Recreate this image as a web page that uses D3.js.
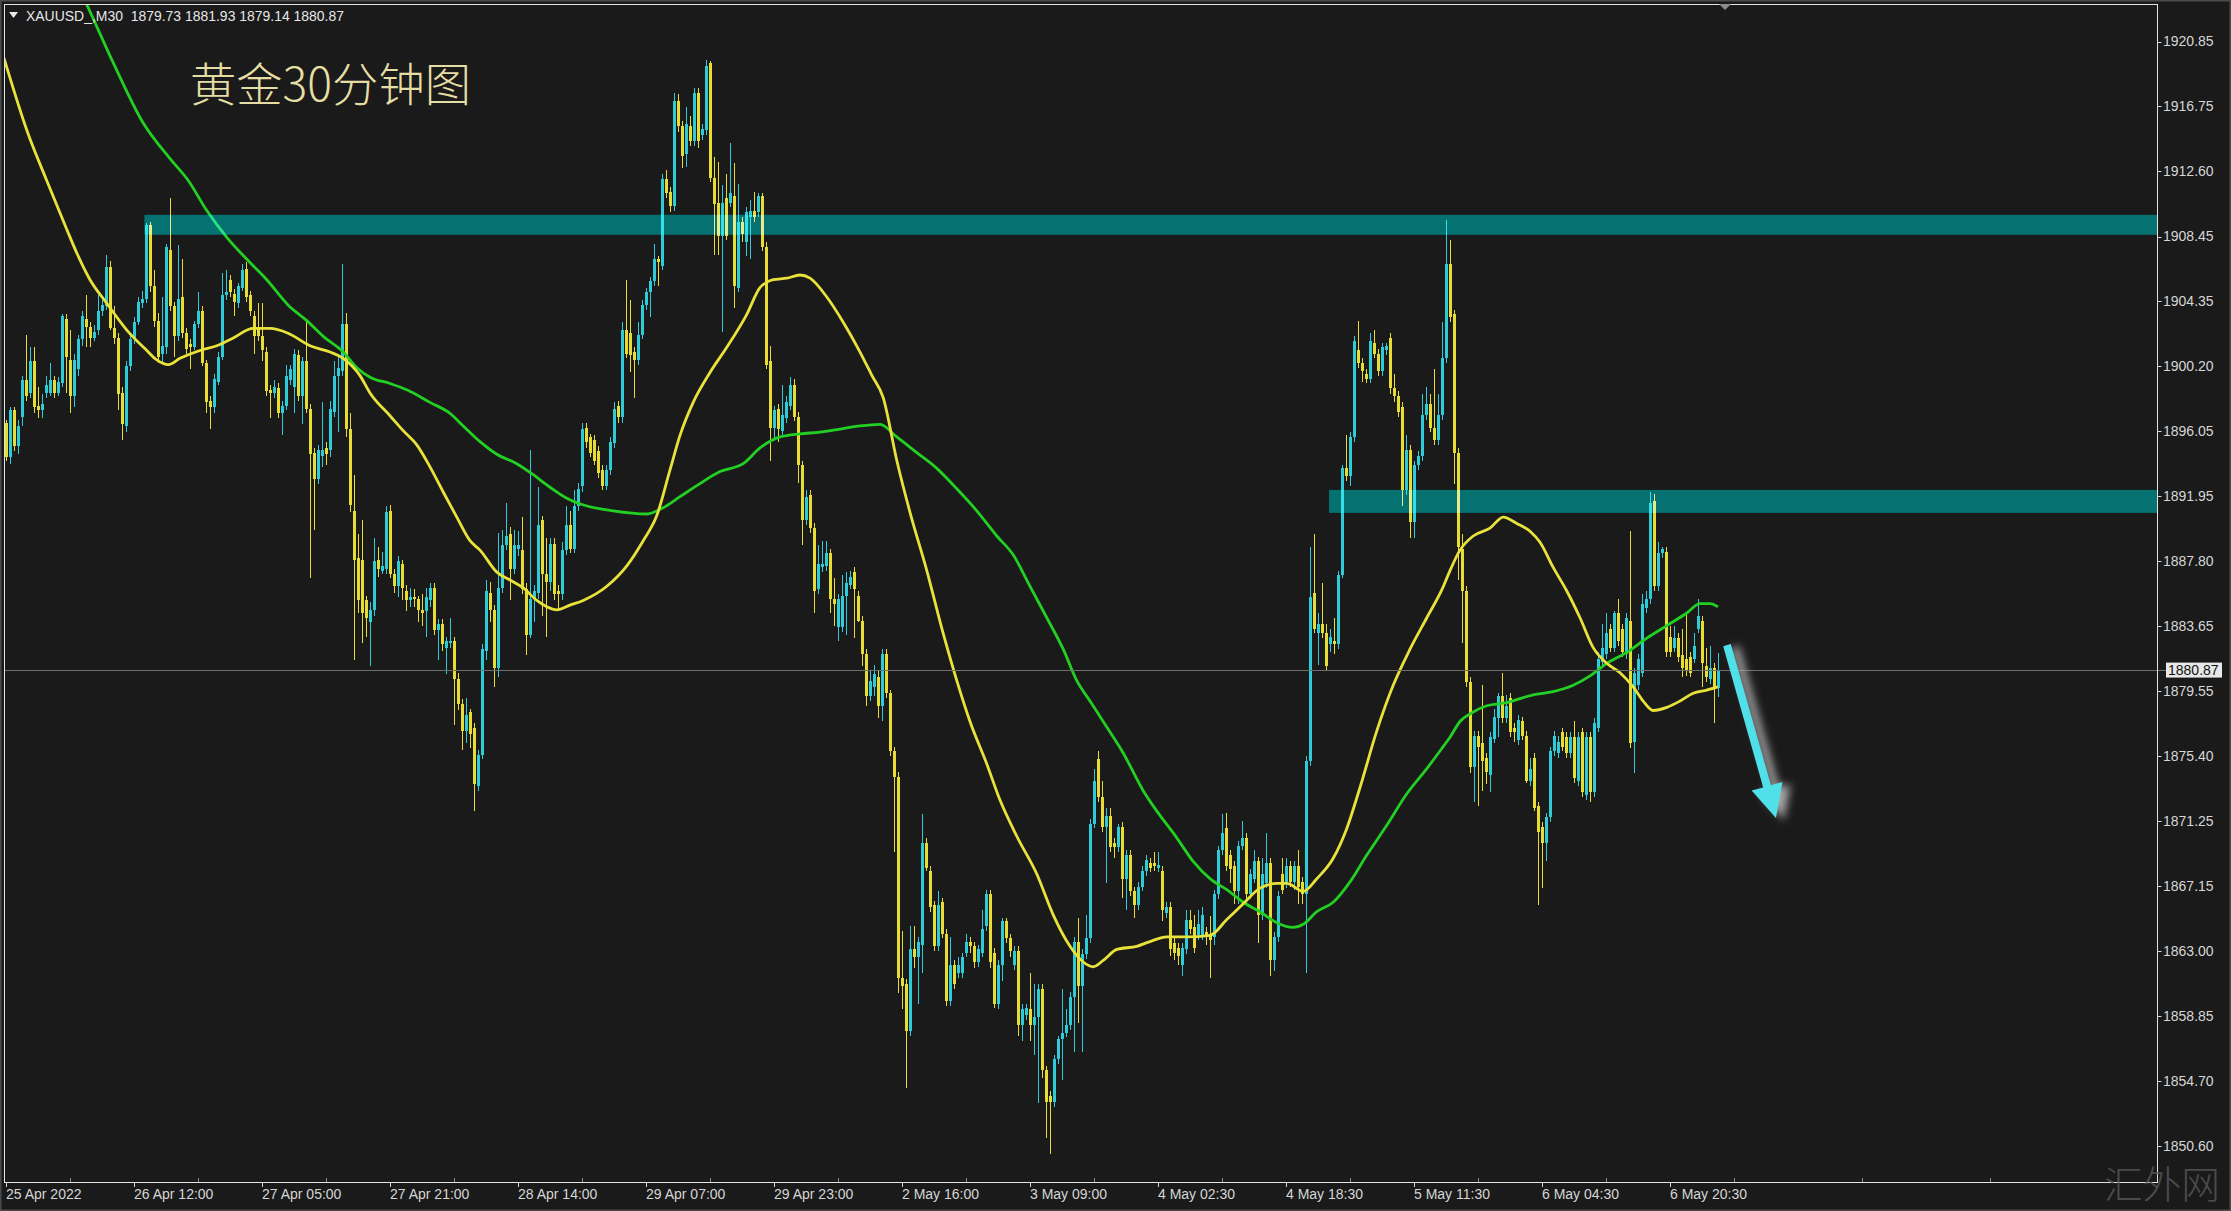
<!DOCTYPE html>
<html><head><meta charset="utf-8">
<script src="https://cdn.jsdelivr.net/npm/d3@7"></script>
<style>
html,body{margin:0;padding:0;background:#1a1a1a;overflow:hidden}
svg{display:block}
</style></head><body>
<svg id="chart" width="2231" height="1211"></svg>
<script>
// ---------------- DATA ----------------
const symbolHeader = "XAUUSD_,M30  1879.73 1881.93 1879.14 1880.87";
const chartTitle = "黄金30分钟图";
const watermark = "汇外网";
const lastPrice = 1880.87;

const opens = [
1896.6,1894.4,1897.4,1895.1,1897.0,1899.3,1898.5,1900.5,1897.7,1897.4,
1898.5,1898.5,1899.3,1898.5,1899.1,1903.2,1900.6,1898.3,1900.0,1901.9,
1903.2,1902.7,1902.0,1902.5,1903.7,1904.0,1906.5,1902.6,1902.0,1898.5,
1896.4,1900.2,1901.9,1903.0,1904.2,1904.5,1909.2,1905.3,1903.1,1901.0,
1901.4,1907.6,1904.0,1902.1,1904.6,1902.3,1901.6,1901.4,1902.9,1903.7,
1900.4,1898.0,1897.6,1899.2,1900.8,1904.7,1905.7,1904.8,1904.2,1905.2,
1906.4,1904.7,1903.4,1902.7,1902.1,1901.1,1898.7,1898.5,1898.8,1897.2,
1897.7,1899.3,1898.9,1900.9,1898.3,1900.5,1897.5,1894.7,1893.0,1894.5,
1895.0,1894.9,1897.3,1899.6,1899.9,1902.9,1896.2,1891.0,1888.0,1887.9,
1885.3,1883.9,1884.7,1887.9,1887.2,1887.3,1891.0,1887.0,1886.2,1887.6,
1885.9,1885.3,1885.5,1885.4,1884.7,1884.6,1885.3,1886.1,1883.4,1883.8,
1882.3,1882.6,1882.7,1880.3,1878.7,1877.0,1878.2,1877.2,1873.5,1875.5,
1882.1,1885.8,1884.7,1881.0,1886.1,1888.8,1889.5,1887.3,1888.6,1888.5,
1886.0,1883.1,1885.4,1885.8,1890.4,1887.0,1886.5,1888.9,1885.9,1885.7,
1888.5,1890.1,1888.6,1891.3,1892.6,1896.3,1895.7,1895.5,1894.8,1893.6,
1892.6,1893.6,1895.3,1897.7,1897.0,1902.5,1902.3,1901.1,1900.6,1902.2,
1904.1,1904.9,1905.6,1907.0,1906.6,1912.1,1911.3,1910.4,1917.1,1915.5,
1913.7,1915.5,1914.5,1917.6,1914.9,1915.2,1919.5,1912.2,1910.6,1908.5,
1910.9,1910.6,1911.0,1905.2,1909.4,1908.1,1909.7,1910.1,1910.0,1911.0,
1907.8,1900.5,1896.3,1897.5,1896.1,1896.9,1897.7,1899.0,1897.0,1893.9,
1890.4,1892.0,1889.9,1886.0,1887.4,1887.5,1888.3,1885.4,1883.6,1883.6,
1885.6,1886.3,1887.1,1885.6,1884.0,1881.9,1879.2,1879.8,1880.4,1878.6,
1881.9,1879.4,1875.7,1874.1,1861.3,1860.9,1857.9,1863.1,1862.6,1863.4,
1869.9,1868.1,1865.9,1863.3,1866.1,1864.1,1859.8,1862.1,1861.6,1861.6,
1862.9,1863.6,1863.3,1862.3,1862.9,1864.6,1866.6,1862.9,1859.6,1862.1,
1864.9,1863.8,1862.1,1863.0,1858.3,1858.9,1859.3,1858.3,1858.8,1860.6,
1855.4,1853.8,1853.4,1856.1,1857.4,1857.8,1858.3,1860.1,1863.6,1860.8,
1862.8,1863.8,1871.1,1875.2,1872.8,1870.9,1871.6,1869.9,1869.6,1870.9,
1867.6,1869.1,1866.8,1865.9,1867.1,1868.1,1868.6,1868.6,1868.3,1868.1,
1865.4,1865.8,1863.5,1863.2,1862.1,1863.1,1865.0,1864.5,1864.0,1864.0,
1864.2,1864.0,1863.9,1866.6,1869.4,1870.8,1869.1,1868.4,1866.8,1869.7,
1870.2,1866.6,1867.6,1868.7,1865.3,1867.3,1868.6,1862.4,1863.9,1867.9,
1867.3,1868.4,1867.4,1868.4,1867.4,1866.6,1875.1,1885.8,1883.2,1883.8,
1883.2,1882.5,1882.7,1882.5,1886.9,1893.7,1893.2,1895.7,1901.2,1900.4,
1899.7,1899.4,1901.7,1901.0,1899.9,1901.2,1902.0,1898.8,1898.3,1897.6,
1892.3,1894.9,1890.3,1893.9,1894.5,1897.1,1897.8,1896.3,1895.5,1897.1,
1900.7,1906.7,1903.5,1894.7,1888.6,1885.9,1880.1,1874.7,1876.7,1876.2,
1875.3,1874.2,1876.5,1877.8,1879.2,1877.8,1879.1,1877.2,1876.4,1877.6,
1876.7,1873.8,1875.3,1872.2,1870.9,1869.9,1871.5,1875.7,1875.6,1876.9,
1876.6,1875.6,1876.6,1873.8,1876.9,1872.9,1876.6,1873.1,1877.2,1881.4,
1881.9,1883.5,1882.3,1884.5,1883.5,1881.9,1884.0,1876.3,1879.9,1880.7,
1884.8,1885.4,1891.6,1886.2,1888.3,1888.4,1883.0,1882.3,1882.9,1881.8,
1881.6,1881.7,1881.6,1883.5,1884.0,1881.1,1880.3,1881.0,1879.73];

const highs = [
1896.8,1897.6,1897.6,1896.8,1899.6,1902.2,1901.4,1901.4,1898.9,1898.4,
1899.6,1900.4,1899.6,1899.5,1903.5,1903.5,1902.5,1901.0,1902.2,1903.7,
1904.7,1903.0,1902.8,1904.7,1904.4,1907.3,1906.9,1904.0,1902.3,1898.9,
1900.5,1902.1,1903.3,1904.6,1905.0,1909.3,1909.4,1906.3,1903.6,1904.6,
1908.0,1910.9,1904.3,1907.9,1907.0,1902.6,1901.9,1903.1,1904.9,1904.0,
1900.6,1898.3,1899.7,1901.1,1906.1,1906.3,1906.0,1905.1,1905.5,1906.7,
1906.8,1905.0,1903.7,1904.2,1904.2,1901.4,1899.0,1899.3,1899.1,1898.0,
1900.3,1900.3,1901.3,1901.2,1900.8,1903.2,1897.8,1895.0,1895.2,1897.9,
1895.4,1898.0,1900.5,1900.9,1906.7,1903.6,1897.2,1893.3,1889.5,1890.4,
1885.6,1885.2,1889.3,1888.7,1888.4,1891.3,1891.4,1887.3,1888.1,1887.9,
1886.3,1886.1,1886.0,1885.6,1885.7,1886.1,1886.4,1886.4,1884.1,1884.1,
1883.0,1884.2,1883.0,1880.7,1879.0,1879.1,1878.4,1877.5,1875.8,1882.5,
1886.6,1886.5,1885.0,1889.6,1889.8,1891.5,1890.0,1889.8,1889.7,1890.6,
1886.4,1894.9,1886.3,1892.5,1890.7,1889.3,1889.3,1889.3,1886.3,1889.0,
1891.3,1891.0,1892.3,1892.8,1896.6,1896.6,1895.9,1895.8,1895.1,1893.9,
1893.9,1895.7,1897.9,1898.0,1903.0,1905.7,1904.4,1901.4,1903.0,1904.4,
1905.2,1905.9,1908.0,1907.2,1912.4,1912.7,1911.6,1917.6,1917.5,1915.8,
1916.7,1916.1,1917.9,1917.9,1915.6,1919.7,1919.6,1913.5,1913.2,1911.7,
1912.4,1914.4,1913.1,1911.8,1909.7,1910.3,1910.8,1911.3,1911.2,1911.2,
1908.1,1901.5,1897.7,1897.8,1899.0,1898.3,1899.5,1899.4,1897.3,1894.2,
1892.3,1892.3,1890.2,1888.8,1889.1,1889.1,1888.6,1886.7,1885.7,1886.9,
1887.1,1887.2,1887.4,1885.9,1884.3,1882.2,1880.8,1881.2,1880.9,1882.2,
1882.2,1879.6,1876.0,1874.4,1864.3,1861.2,1864.6,1864.6,1863.9,1871.7,
1870.2,1868.4,1866.2,1866.8,1866.4,1864.4,1863.9,1862.4,1862.6,1862.9,
1864.1,1863.9,1863.6,1863.4,1865.6,1866.9,1866.9,1863.2,1862.4,1865.1,
1865.1,1864.1,1863.3,1863.3,1859.6,1859.6,1861.6,1860.9,1860.9,1860.9,
1855.7,1854.1,1856.4,1857.6,1860.6,1859.3,1860.4,1863.9,1865.1,1863.1,
1865.3,1871.4,1874.6,1875.7,1873.8,1872.1,1872.1,1870.2,1871.1,1871.2,
1869.4,1869.4,1867.1,1867.4,1868.4,1869.1,1868.9,1869.3,1869.3,1868.4,
1866.1,1866.1,1863.8,1863.5,1863.5,1865.6,1865.6,1865.3,1865.6,1865.8,
1864.5,1865.2,1866.9,1869.7,1871.7,1871.8,1869.4,1868.7,1870.0,1871.3,
1870.5,1868.2,1869.4,1869.0,1868.9,1870.5,1868.9,1864.2,1866.8,1868.9,
1868.9,1868.7,1868.7,1869.4,1867.7,1875.4,1888.7,1889.5,1884.5,1886.4,
1883.8,1883.5,1884.2,1887.2,1893.9,1895.8,1896.0,1902.1,1903.1,1900.7,
1900.0,1902.3,1902.5,1901.3,1901.7,1901.7,1902.3,1899.7,1898.6,1897.9,
1895.8,1895.2,1894.2,1894.8,1898.4,1898.9,1898.4,1900.0,1898.4,1903.0,
1909.5,1908.2,1903.8,1895.0,1889.5,1886.2,1880.4,1877.0,1877.0,1879.9,
1875.6,1876.9,1878.4,1879.4,1880.7,1879.3,1879.4,1877.5,1878.0,1877.9,
1877.0,1875.3,1875.6,1872.5,1871.2,1871.8,1876.0,1877.0,1876.7,1877.2,
1876.9,1876.9,1877.6,1876.9,1877.2,1876.9,1876.9,1877.8,1882.0,1883.8,
1884.5,1883.8,1884.6,1885.4,1883.8,1884.5,1889.7,1881.0,1881.9,1885.7,
1885.9,1892.2,1892.1,1889.0,1888.7,1888.7,1883.7,1883.7,1883.2,1883.5,
1884.5,1882.0,1883.2,1885.4,1884.3,1882.3,1882.4,1881.3,1881.93];

const lows = [
1894.2,1894.0,1894.8,1894.6,1896.4,1898.0,1898.2,1897.2,1896.9,1896.9,
1898.2,1898.3,1898.2,1898.3,1898.9,1898.5,1897.2,1897.6,1899.6,1901.5,
1901.4,1901.4,1901.8,1902.2,1903.4,1903.8,1902.5,1901.6,1897.4,1895.5,
1896.0,1899.9,1901.6,1902.8,1903.9,1904.2,1904.9,1902.7,1900.4,1900.4,
1901.0,1903.7,1900.8,1901.8,1902.0,1901.0,1900.0,1901.2,1902.6,1900.2,
1897.2,1896.2,1897.2,1899.0,1900.6,1904.4,1904.6,1903.4,1903.9,1905.0,
1904.3,1903.4,1901.0,1901.8,1900.5,1898.3,1896.9,1898.2,1896.9,1895.8,
1897.4,1899.0,1897.2,1898.0,1896.5,1897.2,1886.7,1889.8,1892.7,1893.8,
1893.9,1894.4,1897.0,1896.0,1899.6,1895.7,1890.9,1881.5,1884.5,1882.6,
1883.0,1881.1,1884.3,1886.8,1887.0,1887.0,1886.7,1885.8,1885.5,1885.3,
1884.6,1884.9,1884.9,1883.9,1883.7,1883.0,1884.9,1883.1,1881.5,1882.1,
1880.6,1882.3,1877.4,1878.3,1875.8,1876.2,1875.9,1871.9,1873.2,1875.2,
1881.5,1883.9,1879.8,1880.4,1885.8,1888.5,1885.3,1887.0,1888.1,1885.7,
1881.8,1882.9,1883.9,1885.4,1884.3,1883.0,1885.9,1885.3,1884.7,1885.3,
1888.2,1888.3,1888.3,1891.0,1892.2,1895.0,1894.4,1893.9,1893.1,1892.3,
1892.3,1893.3,1895.0,1896.6,1896.6,1900.7,1899.8,1898.2,1900.3,1901.9,
1903.8,1903.3,1905.3,1905.3,1906.3,1910.9,1910.0,1910.1,1915.1,1912.8,
1912.9,1914.2,1914.2,1914.1,1914.6,1914.9,1911.9,1907.3,1907.3,1902.4,
1908.2,1910.3,1903.9,1904.9,1908.1,1907.2,1907.0,1909.4,1909.7,1907.5,
1900.0,1894.2,1895.5,1895.4,1895.8,1896.6,1897.4,1896.7,1892.8,1888.8,
1890.1,1889.6,1884.5,1885.7,1887.1,1887.2,1884.5,1883.7,1882.7,1883.3,
1883.1,1886.0,1882.9,1883.9,1881.1,1878.6,1878.9,1879.2,1877.8,1877.6,
1879.1,1875.4,1869.3,1860.3,1859.3,1854.3,1857.6,1861.9,1859.6,1861.6,
1868.1,1865.5,1863.0,1863.0,1863.8,1859.5,1859.5,1860.6,1861.3,1861.3,
1862.6,1862.9,1861.9,1862.0,1862.6,1864.3,1861.9,1859.4,1859.3,1861.1,
1863.5,1862.6,1861.8,1857.6,1857.3,1858.6,1857.3,1856.4,1853.3,1854.9,
1851.1,1850.1,1853.1,1855.8,1854.8,1857.5,1858.0,1856.6,1858.4,1856.6,
1862.5,1863.5,1870.8,1872.5,1870.6,1867.3,1869.3,1868.9,1869.3,1866.4,
1865.6,1866.5,1865.1,1865.6,1866.8,1867.8,1868.0,1868.1,1868.0,1864.9,
1865.1,1862.7,1862.4,1862.1,1861.4,1862.8,1864.1,1862.9,1863.7,1863.7,
1863.4,1861.3,1863.4,1866.3,1869.1,1868.1,1867.3,1866.0,1866.0,1869.4,
1866.3,1866.3,1867.3,1863.5,1865.0,1867.0,1861.4,1861.7,1863.6,1866.6,
1867.0,1867.1,1866.9,1866.0,1866.0,1861.6,1874.8,1883.2,1881.2,1882.9,
1880.8,1882.0,1881.9,1882.2,1886.7,1892.9,1892.6,1895.4,1900.1,1899.2,
1899.1,1899.1,1900.7,1899.6,1899.6,1900.9,1898.4,1897.9,1897.0,1891.3,
1892.0,1889.3,1889.3,1893.6,1894.2,1896.8,1896.0,1895.2,1895.2,1896.8,
1900.4,1903.0,1892.7,1886.6,1882.6,1879.8,1874.3,1872.5,1872.2,1873.2,
1873.6,1873.1,1876.2,1876.6,1877.5,1877.5,1876.6,1876.3,1876.1,1876.4,
1873.7,1873.5,1871.9,1865.9,1867.0,1868.7,1871.2,1875.4,1875.3,1875.7,
1875.3,1875.3,1873.7,1873.5,1872.8,1872.6,1872.5,1872.8,1876.9,1881.1,
1881.6,1882.0,1882.0,1882.4,1881.7,1881.6,1875.9,1874.3,1879.6,1880.4,
1884.5,1885.1,1885.9,1885.9,1888.0,1881.7,1881.7,1882.0,1881.4,1880.4,
1880.5,1880.4,1881.3,1883.2,1879.8,1880.1,1880.0,1877.5,1879.14];

const closes = [
1894.4,1897.4,1895.1,1896.4,1899.3,1898.3,1900.5,1897.6,1897.4,1897.8,
1899.0,1899.3,1898.5,1899.2,1903.4,1900.8,1898.3,1900.6,1901.9,1903.4,
1902.7,1902.0,1902.4,1903.7,1904.1,1906.5,1902.6,1902.0,1898.4,1896.5,
1900.2,1901.9,1903.0,1904.3,1904.5,1909.2,1905.3,1903.1,1900.8,1901.5,
1907.8,1904.0,1902.1,1904.5,1902.3,1901.3,1901.4,1902.9,1903.7,1900.4,
1897.9,1897.6,1899.4,1900.8,1904.7,1904.9,1904.9,1904.3,1905.3,1906.3,
1904.6,1903.7,1902.1,1902.1,1901.2,1898.6,1898.5,1898.9,1897.2,1897.7,
1899.6,1900.0,1901.0,1898.3,1900.5,1897.5,1894.6,1893.0,1894.9,1894.9,
1894.6,1897.5,1899.6,1900.1,1902.9,1896.2,1891.4,1887.9,1885.3,1884.5,
1884.2,1884.7,1887.8,1887.3,1887.5,1890.9,1887.0,1886.2,1887.8,1886.1,
1885.3,1885.5,1885.4,1884.7,1884.5,1885.5,1886.1,1883.4,1883.8,1882.5,
1882.7,1882.7,1880.3,1878.7,1877.0,1878.0,1876.8,1873.6,1875.5,1882.2,
1885.9,1884.7,1881.0,1886.1,1888.8,1889.4,1887.3,1888.8,1888.8,1886.0,
1883.1,1885.4,1885.9,1890.1,1887.0,1886.5,1888.9,1885.7,1885.7,1888.5,
1890.1,1888.6,1891.3,1892.4,1896.2,1895.4,1894.7,1894.2,1893.4,1892.6,
1893.6,1895.4,1897.5,1897.0,1902.5,1901.0,1900.9,1900.6,1902.2,1904.1,
1904.9,1905.6,1907.0,1906.8,1912.1,1911.2,1910.4,1917.1,1915.5,1913.6,
1915.6,1914.5,1917.6,1914.5,1915.3,1919.3,1912.2,1910.5,1908.5,1910.6,
1908.5,1911.2,1905.3,1909.4,1908.6,1910.0,1910.1,1909.7,1911.0,1907.8,
1900.3,1896.3,1897.4,1896.2,1897.1,1897.9,1899.0,1897.0,1893.9,1890.4,
1891.9,1889.9,1885.9,1887.6,1887.6,1888.3,1885.4,1885.1,1885.4,1885.6,
1886.4,1886.8,1886.0,1884.0,1881.9,1879.2,1880.2,1880.6,1878.6,1881.9,
1879.4,1875.7,1874.1,1861.3,1860.8,1857.9,1863.1,1862.6,1863.6,1869.9,
1868.3,1865.8,1863.3,1865.9,1864.1,1859.8,1862.1,1860.9,1862.1,1862.6,
1863.6,1863.3,1862.3,1863.1,1864.4,1866.6,1862.3,1859.6,1862.1,1864.9,
1863.8,1863.0,1863.0,1858.3,1859.3,1859.4,1858.3,1858.8,1860.6,1855.4,
1853.4,1853.4,1856.1,1857.4,1857.8,1858.3,1860.1,1863.6,1860.8,1862.8,
1863.8,1871.1,1873.8,1872.8,1870.9,1871.6,1869.6,1869.6,1870.9,1867.6,
1869.1,1866.8,1865.9,1867.1,1868.1,1868.8,1868.3,1868.4,1868.5,1865.6,
1865.8,1863.1,1862.9,1862.7,1863.2,1865.0,1864.4,1863.2,1864.7,1865.3,
1863.9,1863.7,1866.6,1869.4,1870.5,1868.4,1868.2,1866.8,1869.7,1870.2,
1866.6,1867.9,1868.7,1865.3,1867.9,1868.6,1862.4,1863.9,1866.5,1866.9,
1868.4,1867.4,1868.4,1867.1,1866.6,1875.1,1885.5,1883.5,1883.8,1883.2,
1881.1,1883.0,1882.5,1886.9,1893.7,1893.2,1895.7,1901.8,1900.4,1899.9,
1899.4,1901.8,1901.0,1899.9,1901.4,1901.5,1898.8,1898.3,1897.3,1892.3,
1894.9,1890.3,1893.9,1894.5,1897.1,1897.8,1896.3,1895.5,1897.1,1900.7,
1906.7,1903.3,1894.7,1888.7,1885.9,1880.1,1874.7,1876.7,1876.0,1875.1,
1874.4,1876.6,1877.9,1879.2,1877.8,1878.6,1876.9,1876.9,1877.7,1876.7,
1873.8,1874.6,1872.1,1870.6,1869.9,1871.5,1875.7,1876.7,1876.3,1876.0,
1875.6,1876.6,1874.0,1876.6,1873.1,1876.6,1873.1,1877.5,1881.6,1882.3,
1883.2,1882.3,1884.5,1882.7,1882.0,1884.2,1876.2,1880.7,1881.6,1885.1,
1885.4,1891.5,1886.2,1888.3,1888.6,1882.0,1882.0,1882.9,1881.7,1881.0,
1880.8,1880.7,1882.4,1884.3,1881.3,1880.4,1881.0,1879.8,1880.87];

// Fast moving average (yellow): bar position / value
const maFastBars = [-0.5,5.5,10.2,15.2,17.7,21,25.2,30.2,35.2,37.7,40.6,43.5,48.5,52.7,56.8,61.8,66,70.5,76,81,84.3,88.5,91,96,99.3,102.7,106,109.3,112.7,116,118.5,122.7,126,129.3,132.7,135.2,137.7,141,144.3,150.2,155.2,159.3,162.7,166,168.5,171.8,176,180.2,185.2,188.5,191.8,195.2,198.5,201,205.2,209.3,213.5,216.5,219.3,222.7,226,230.2,234.3,237.7,241,245.2,248.5,252.7,257.7,261.8,266,269.3,271.8,274.3,277.7,282.7,286,290.2,295.2,301,305.2,309.3,313.5,317.7,320.2,324.3,327.7,331.8,335.2,338.5,342.7,346.8,351,355.2,359,361,363.5,366.8,371,374.3,377.7,381,383.5,386.8,390.2,393.5,396.8,400.2,403.5,406.8,409.3,411.8,415.2,418.5,421.8,425.2,428];
const maFastVals = [1919.8,1915.0,1912.0,1908.9,1907.4,1905.7,1904.2,1902.5,1901.2,1900.6,1900.3,1900.7,1901.2,1901.5,1902.0,1902.6,1902.6,1902.3,1901.5,1901.1,1900.7,1899.6,1898.5,1897.05,1896.1,1895.2,1893.8,1892.2,1890.6,1889.1,1888.5,1887.1,1886.6,1886.1,1885.3,1884.9,1884.7,1885.0,1885.3,1886.2,1887.5,1889.1,1890.7,1893.6,1895.8,1897.9,1899.8,1901.4,1903.5,1905.2,1905.7,1905.8,1906.0,1905.8,1904.6,1903.0,1901.1,1899.6,1898.2,1894.2,1890.9,1887.2,1883.2,1880.2,1877.6,1874.9,1872.6,1870.3,1867.9,1865.3,1863.3,1862.3,1862.0,1862.4,1863.1,1863.3,1863.6,1863.9,1863.9,1864.0,1865.0,1866.0,1867.0,1867.3,1867.3,1866.8,1867.6,1868.9,1870.8,1873.4,1877.0,1879.9,1882.2,1884.2,1886.0,1887.2,1888.5,1889.4,1889.9,1890.6,1890.2,1889.7,1889.0,1887.4,1885.9,1884.2,1882.3,1881.3,1880.7,1879.8,1878.9,1878.3,1878.5,1878.9,1879.4,1879.6,1879.8];

// Slow moving average (green)
const maSlowBars = [14,20.2,27,34,41,45.6,50.2,55.2,60.2,65.2,70.5,75.2,79.3,84.3,87.7,91,96,100.2,106,111,114.3,118.5,122.7,127.7,131.8,136,140.2,144,151.8,160.2,164.3,168.5,172.7,178.5,184.3,188.5,193.5,198.5,203.5,208.5,213.5,218.5,222.7,227.7,232.7,237.7,242.7,247.7,251.8,256,260.2,264.3,267.7,271,274.3,279.3,284.3,288,292.7,296.8,301,305.2,309.3,313.5,317.7,321.8,324.3,327.7,331.8,336,340.2,345.2,350.2,355.2,359,361,363.5,366.8,370.2,375.2,381.8,386.8,391.8,396,400.2,405.2,410.2,415.2,420.2,423.5,426,428];
const maSlowVals = [1926.5,1923.2,1919.4,1915.8,1913.4,1912.0,1910.1,1908.4,1907.0,1905.7,1904.1,1903.1,1902.1,1901.1,1900.1,1899.5,1899.1,1898.7,1897.9,1897.2,1896.4,1895.4,1894.6,1894.0,1893.3,1892.5,1891.8,1891.4,1891.0,1890.8,1891.2,1891.9,1892.6,1893.5,1894.0,1895.0,1895.7,1895.9,1896.0,1896.2,1896.4,1896.5,1895.7,1894.7,1893.7,1892.4,1891.0,1889.4,1888.2,1886.2,1884.2,1882.2,1880.2,1878.9,1877.6,1875.6,1873.2,1871.8,1870.2,1868.7,1867.6,1866.9,1866.1,1865.5,1864.8,1864.5,1864.7,1865.5,1866.1,1867.4,1869.1,1871.0,1873.0,1874.6,1875.9,1876.6,1877.6,1878.2,1878.6,1878.8,1879.3,1879.5,1879.9,1880.5,1881.3,1882.0,1882.9,1883.7,1884.5,1885.1,1885.1,1884.9];

// Support / resistance zones (start bar, lower price, upper price)
const zoneStartBars = [34.6, 330.75];
const zoneLows = [1908.56, 1890.87];
const zoneHighs = [1909.83, 1892.33];

// Price axis labels
const priceTicks = [1920.85,1916.75,1912.60,1908.45,1904.35,1900.20,1896.05,1891.95,1887.80,1883.65,1879.55,1875.40,1871.25,1867.15,1863.00,1858.85,1854.70,1850.60];

// Time axis labels
const timeLabelBars = [0,32,64,96,128,160,192,224,256,288,320,352,384,416];
const timeLabels = ["25 Apr 2022","26 Apr 12:00","27 Apr 05:00","27 Apr 21:00","28 Apr 14:00","29 Apr 07:00","29 Apr 23:00","2 May 16:00","3 May 09:00","4 May 02:30","4 May 18:30","5 May 11:30","6 May 04:30","6 May 20:30"];
const minorTickBars = [16,48,80,112,144,176,208,240,272,304,336,368,400,432,464,496,528];

// Forecast arrow: start (bar, price) -> tip (bar, price)
const arrowFrom = [430.25, 1882.46];
const arrowTo = [442.5, 1871.46];

// ---------------- DRAWING ----------------
const W = 2231, H = 1211;
const P = {left: 4, top: 4, right: 2157, bottom: 1182};
const COL = {bg:"#1a1a1a", frame:"#e4e4e4", text:"#d6d6d6", up:"#2fcbd8", down:"#e6dc34",
             maFast:"#e8e23a", maSlow:"#22cf22", zone:"rgb(5,113,113)", bid:"#6e6e6e"};

const x = d3.scaleLinear().domain([0, 537.75]).range([6, 2157]);
const y = d3.scaleLinear().domain([1848.37, 1923.24]).range([1181, 4]);

const svg = d3.select("#chart");
const defs = svg.append("defs");
defs.append("clipPath").attr("id","plotClip").append("rect")
  .attr("x",P.left+1).attr("y",P.top+1).attr("width",P.right-P.left-1).attr("height",P.bottom-P.top-1);
const f = defs.append("filter").attr("id","arrowShadow").attr("x","-50%").attr("y","-50%").attr("width","200%").attr("height","200%");
f.append("feGaussianBlur").attr("in","SourceAlpha").attr("stdDeviation",4).attr("result","b");
f.append("feOffset").attr("in","b").attr("dx",8).attr("dy",2).attr("result","o");
f.append("feFlood").attr("flood-color","#a8a8a8").attr("flood-opacity",1).attr("result","c");
f.append("feComposite").attr("in","c").attr("in2","o").attr("operator","in").attr("result","s");
const fm = f.append("feMerge"); fm.append("feMergeNode").attr("in","s"); fm.append("feMergeNode").attr("in","SourceGraphic");

svg.append("rect").attr("width",W).attr("height",H).attr("fill",COL.bg);
svg.append("rect").attr("x",0.5).attr("y",0.5).attr("width",W-1).attr("height",H-1)
  .attr("fill","none").attr("stroke","#4a4a4a").attr("stroke-width",2);

const plot = svg.append("g").attr("clip-path","url(#plotClip)");

// bid line
svg.append("line").attr("x1",P.left).attr("x2",2166).attr("y1",Math.round(y(lastPrice))+0.5).attr("y2",Math.round(y(lastPrice))+0.5)
  .attr("stroke",COL.bid).attr("stroke-width",1);

// candles
const idx = d3.range(closes.length);
const cg = plot.append("g").attr("shape-rendering","crispEdges");
const cx = i => Math.round(x(i));
cg.selectAll("rect.wick").data(idx).join("rect").attr("class","wick")
  .attr("x", i => cx(i)).attr("width",1)
  .attr("y", i => y(Math.max(highs[i], opens[i], closes[i])))
  .attr("height", i => Math.max(1, y(Math.min(lows[i], opens[i], closes[i])) - y(Math.max(highs[i], opens[i], closes[i]))))
  .attr("fill", i => closes[i] >= opens[i] ? COL.up : COL.down);
cg.selectAll("rect.body").data(idx).join("rect").attr("class","body")
  .attr("x", i => cx(i) - 1).attr("width",3)
  .attr("y", i => y(Math.max(opens[i], closes[i])))
  .attr("height", i => Math.max(1, Math.abs(y(opens[i]) - y(closes[i]))))
  .attr("fill", i => closes[i] >= opens[i] ? COL.up : COL.down);

// moving averages
const line = d3.line().x(d => x(d[0])).y(d => y(d[1])).curve(d3.curveMonotoneX);
plot.append("path").datum(d3.zip(maSlowBars, maSlowVals)).attr("d", line)
  .attr("fill","none").attr("stroke",COL.maSlow).attr("stroke-width",2.8).attr("stroke-linejoin","round");
plot.append("path").datum(d3.zip(maFastBars, maFastVals)).attr("d", line)
  .attr("fill","none").attr("stroke",COL.maFast).attr("stroke-width",2.8).attr("stroke-linejoin","round");

// zones (blended over price)
plot.selectAll("rect.zone").data(d3.range(zoneStartBars.length)).join("rect").attr("class","zone")
  .attr("x", i => x(zoneStartBars[i])).attr("width", i => P.right + 2 - x(zoneStartBars[i]))
  .attr("y", i => y(zoneHighs[i])).attr("height", i => y(zoneLows[i]) - y(zoneHighs[i]))
  .attr("fill", COL.zone).style("mix-blend-mode","screen");

// frame
svg.append("rect").attr("x",P.left+0.5).attr("y",P.top+0.5).attr("width",P.right-P.left).attr("height",P.bottom-P.top)
  .attr("fill","none").attr("stroke",COL.frame).attr("stroke-width",1).attr("shape-rendering","crispEdges");

// price axis
const pa = svg.append("g").attr("font-family","'Liberation Sans', Arial, sans-serif").attr("font-size",14).attr("fill",COL.text);
pa.selectAll("line").data(priceTicks).join("line")
  .attr("x1",P.right+0.5).attr("x2",P.right+4.5).attr("y1",d=>Math.round(y(d))+0.5).attr("y2",d=>Math.round(y(d))+0.5)
  .attr("stroke",COL.text).attr("stroke-width",1);
pa.selectAll("text").data(priceTicks).join("text")
  .attr("x",P.right+6).attr("y",d=>y(d)).attr("dy","0.35em").text(d=>d.toFixed(2));

// last price label
const ly = y(lastPrice);
svg.append("rect").attr("x",2166).attr("y",ly-7.5).attr("width",56).attr("height",15).attr("fill","#e8e8e8");
svg.append("text").attr("x",2168).attr("y",ly).attr("dy","0.35em").attr("font-family","'Liberation Sans', Arial, sans-serif")
  .attr("font-size",14).attr("fill","#111").text(lastPrice.toFixed(2));

// time axis
const ta = svg.append("g").attr("font-family","'Liberation Sans', Arial, sans-serif").attr("font-size",14).attr("fill",COL.text);
ta.selectAll("line.major").data(timeLabelBars).join("line").attr("class","major")
  .attr("x1",d=>cx(d)+0.5).attr("x2",d=>cx(d)+0.5).attr("y1",P.bottom).attr("y2",P.bottom+5)
  .attr("stroke",COL.text).attr("stroke-width",1);
ta.selectAll("line.minor").data(minorTickBars).join("line").attr("class","minor")
  .attr("x1",d=>cx(d)+0.5).attr("x2",d=>cx(d)+0.5).attr("y1",P.bottom-4).attr("y2",P.bottom)
  .attr("stroke","#8a8a8a").attr("stroke-width",1);
ta.selectAll("text").data(timeLabels).join("text")
  .attr("x",(d,i)=>cx(timeLabelBars[i])).attr("y",1199).text(d=>d);

// header
svg.append("path").attr("d","M9,12 L18,12 L13.5,18 Z").attr("fill","#e8e8e8");
svg.append("text").attr("x",26).attr("y",21).attr("font-family","'Liberation Sans', Arial, sans-serif").attr("font-size",14)
  .attr("fill","#e6e6e6").style("white-space","pre").attr("textLength",318).attr("lengthAdjust","spacingAndGlyphs").text(symbolHeader);
// shift marker
svg.append("path").attr("d","M1719,4 L1731,4 L1725,10 Z").attr("fill","#8c8c8c");

// title
svg.append("text").attr("x",190).attr("y",101).attr("font-family","'Noto Sans CJK SC', sans-serif").attr("font-size",46)
  .attr("font-weight",300)
  .attr("fill","#e4dea4").attr("textLength",281).attr("lengthAdjust","spacingAndGlyphs").text(chartTitle);

// watermark
svg.append("text").attr("x",2104).attr("y",1198).attr("font-family","'Noto Sans CJK SC', sans-serif").attr("font-size",38)
  .attr("font-weight",300)
  .attr("fill","#555555").attr("fill-opacity",0.85).attr("textLength",116).attr("lengthAdjust","spacingAndGlyphs").text(watermark);

// arrow
(function(){
  const x0 = x(arrowFrom[0]), y0 = y(arrowFrom[1]), x1 = x(arrowTo[0]), y1 = y(arrowTo[1]);
  const dx = x1-x0, dy = y1-y0, L = Math.hypot(dx,dy), ux = dx/L, uy = dy/L, px = -uy, py = ux;
  const headL = 33, headW = 16, shaftW = 4;
  const bx = x1 - ux*headL, by = y1 - uy*headL;
  const pts = [
    [x0+px*shaftW, y0+py*shaftW],[bx+px*shaftW, by+py*shaftW],[bx+px*headW, by+py*headW],
    [x1,y1],[bx-px*headW, by-py*headW],[bx-px*shaftW, by-py*shaftW],[x0-px*shaftW, y0-py*shaftW]];
  svg.append("path").attr("d","M"+pts.map(p=>p[0].toFixed(1)+","+p[1].toFixed(1)).join("L")+"Z")
    .attr("fill","#4fe0ea").attr("filter","url(#arrowShadow)");
})();
</script>
</body></html>
